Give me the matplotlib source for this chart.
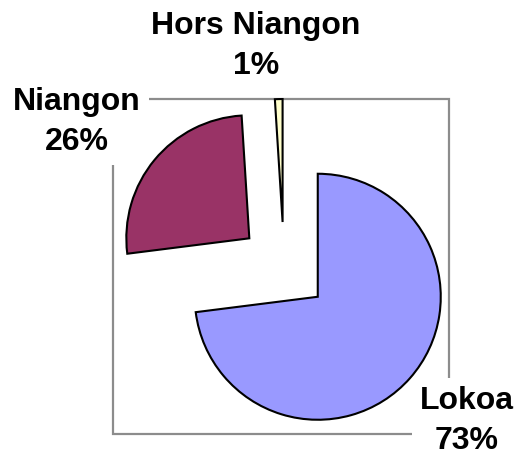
import matplotlib
matplotlib.use('Agg')
import matplotlib.pyplot as plt
from matplotlib.patches import Rectangle

# Data
names = ['Lokoa', 'Niangon', 'Hors Niangon']
shares = [73, 26, 1]
colors = ['#9999FF', '#993366', '#FFFFCC']

W, H = 518, 457
plt.rcParams['font.family'] = ['Liberation Sans', 'DejaVu Sans']

fig = plt.figure(figsize=(W / 100, H / 100), dpi=100)
ax = fig.add_axes([0, 0, 1, 1])

# plot-area frame (Excel style)
frame = Rectangle((113, H - 434), 449 - 113, 434 - 99, fill=False,
                  edgecolor='#8c8c8c', linewidth=1.6, zorder=1)
ax.add_patch(frame)

radius = 123
explode_px = 45  # pie() offsets in data units, which are pixels here
ax.pie(shares, colors=colors, startangle=90, counterclock=False,
       radius=radius, center=(284, H - 267),
       explode=[explode_px] * len(shares),
       wedgeprops=dict(edgecolor='black', linewidth=1.5, zorder=2),
       frame=True)
ax.set_xlim(0, W)
ax.set_ylim(0, H)
ax.set_aspect('equal')
ax.axis('off')

# label positions in image pixels (centre of the two-line block)
label_pos = [(467, 421), (77, 122), (256, 46)]
for name, val, (x, y) in zip(names, shares, label_pos):
    ax.text(x, H - y, f'{name}\n{val}%', ha='center', va='center',
            fontsize=23, fontweight='bold', linespacing=1.4, zorder=5,
            bbox=dict(boxstyle='square,pad=0.25', facecolor='white', edgecolor='none'))

fig.savefig('out.png', dpi=100)
